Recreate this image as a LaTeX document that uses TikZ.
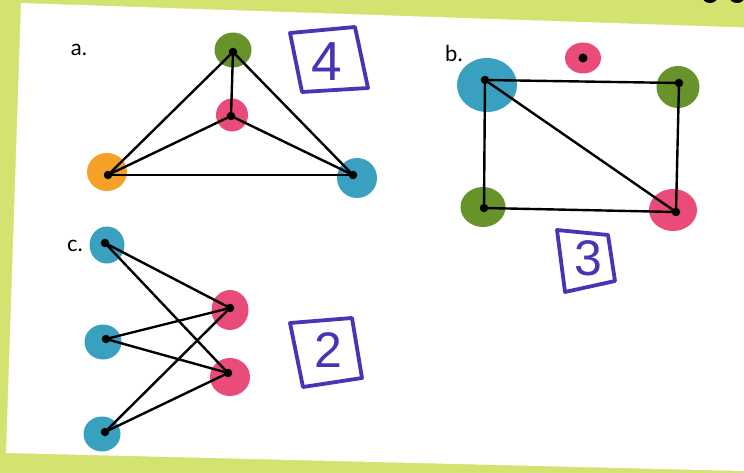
\documentclass[tikz,border=0pt]{standalone}
\usepackage{fontspec}
\setmainfont{Lato}
\usetikzlibrary{shapes.geometric}
\definecolor{bgyellow}{RGB}{212,226,112}
\definecolor{ngreen}{RGB}{104,146,42}
\definecolor{npink}{RGB}{234,76,122}
\definecolor{nblue}{RGB}{58,160,192}
\definecolor{norange}{RGB}{246,160,40}
\definecolor{mpurple}{RGB}{72,52,182}
\tikzset{
  vert/.style={ellipse,inner sep=0pt,draw=none},
  dotn/.style={circle,fill=black,inner sep=0pt,minimum size=8.5pt},
  edge/.style={line width=2.4pt,black,line cap=round},
  markbox/.style={draw=mpurple,line width=3.8pt,line join=round,line cap=round},
  digit/.style={text=mpurple,font=\fontsize{50}{50}\selectfont\fontspec{Liberation Sans}},
  lbl/.style={font=\fontsize{22}{22}\selectfont,text=black}
}
\begin{document}
\begin{tikzpicture}[x=1pt,y=-1pt]
\useasboundingbox (0,0) rectangle (744,473);
\clip (0,0) rectangle (744,473);
\fill[bgyellow] (0,0) rectangle (744,473);
\fill[white] (21,3) -- (760,28) -- (760,471) -- (743,471) -- (6,453) -- cycle;
\fill[black] (710,-4) ellipse (8 and 7);
\fill[black] (737,-4) ellipse (8 and 7);

% ---------- graph a ----------
\node[lbl] (la) at (79,50) {a.};
\node[vert,fill=ngreen,minimum width=37pt,minimum height=35pt] (ag) at (233,50) {};
\node[vert,fill=npink,minimum width=32pt,minimum height=33pt] (ap) at (232,115) {};
\node[vert,fill=norange,minimum width=40pt,minimum height=38pt] (ao) at (107,172) {};
\node[vert,fill=nblue,minimum width=40pt,minimum height=40pt] (ab) at (357,178) {};
\node[dotn] (agd) at (233,52) {};
\node[dotn] (apd) at (231,116) {};
\node[dotn] (aod) at (108,175) {};
\node[dotn] (abd) at (353,175) {};
\draw[edge] (agd) -- (apd);
\draw[edge] (agd) -- (aod);
\draw[edge] (agd) -- (abd);
\draw[edge] (apd) -- (aod);
\draw[edge] (apd) -- (abd);
\draw[edge] (aod) -- (abd);
\draw[markbox] (290,33) -- (355,27) -- (368,88) -- (302,92) -- cycle;
\node[digit,font=\fontsize{55}{55}\selectfont\fontspec{Liberation Sans}] (d4) at (327,62) {4};

% ---------- graph b ----------
\node[lbl] (lb) at (454,53) {b.};
\node[vert,fill=npink,minimum width=36pt,minimum height=31pt] (bt) at (583,58) {};
\node[dotn,minimum size=9pt] (btd) at (583,58) {};
\node[vert,fill=nblue,minimum width=60pt,minimum height=54pt] (bb) at (487,85) {};
\node[vert,fill=ngreen,minimum width=43pt,minimum height=42pt] (bg1) at (678,87) {};
\node[vert,fill=ngreen,minimum width=45pt,minimum height=40pt] (bg2) at (483,207) {};
\node[vert,fill=npink,minimum width=48pt,minimum height=42pt] (bp) at (673,210) {};
\node[dotn] (bbd) at (485,80) {};
\node[dotn] (bg1d) at (679,83) {};
\node[dotn] (bg2d) at (484,208) {};
\node[dotn] (bpd) at (676,212) {};
\draw[edge] (bbd) -- (bg1d);
\draw[edge] (bbd) -- (bg2d);
\draw[edge] (bbd) -- (bpd);
\draw[edge] (bg1d) -- (bpd);
\draw[edge] (bg2d) -- (bpd);
\draw[markbox] (557,230) -- (608,235) -- (615,281) -- (565,292) -- cycle;
\node[digit] (d3) at (588,258) {3};

% ---------- graph c ----------
\node[lbl] (lc) at (75,246) {c.};
\node[vert,fill=nblue,minimum width=35pt,minimum height=37pt] (c1) at (107,245) {};
\node[vert,fill=nblue,minimum width=37pt,minimum height=35pt] (c2) at (103,342) {};
\node[vert,fill=nblue,minimum width=37pt,minimum height=35pt] (c3) at (102,434) {};
\node[vert,fill=npink,minimum width=37pt,minimum height=40pt] (cp1) at (230,310) {};
\node[vert,fill=npink,minimum width=40pt,minimum height=38pt] (cp2) at (230,377) {};
\node[dotn] (c1d) at (105,243) {};
\node[dotn] (c2d) at (106,339) {};
\node[dotn] (c3d) at (105,432) {};
\node[dotn] (cp1d) at (230,308) {};
\node[dotn] (cp2d) at (228,373) {};
\draw[edge] (c1d) -- (cp1d);
\draw[edge] (c1d) -- (cp2d);
\draw[edge] (c2d) -- (cp1d);
\draw[edge] (c2d) -- (cp2d);
\draw[edge] (c3d) -- (cp1d);
\draw[edge] (c3d) -- (cp2d);
\draw[markbox] (290,323) -- (352,318) -- (362,378) -- (303,387) -- cycle;
\node[digit] (d2) at (328,350) {2};
\end{tikzpicture}
\end{document}
